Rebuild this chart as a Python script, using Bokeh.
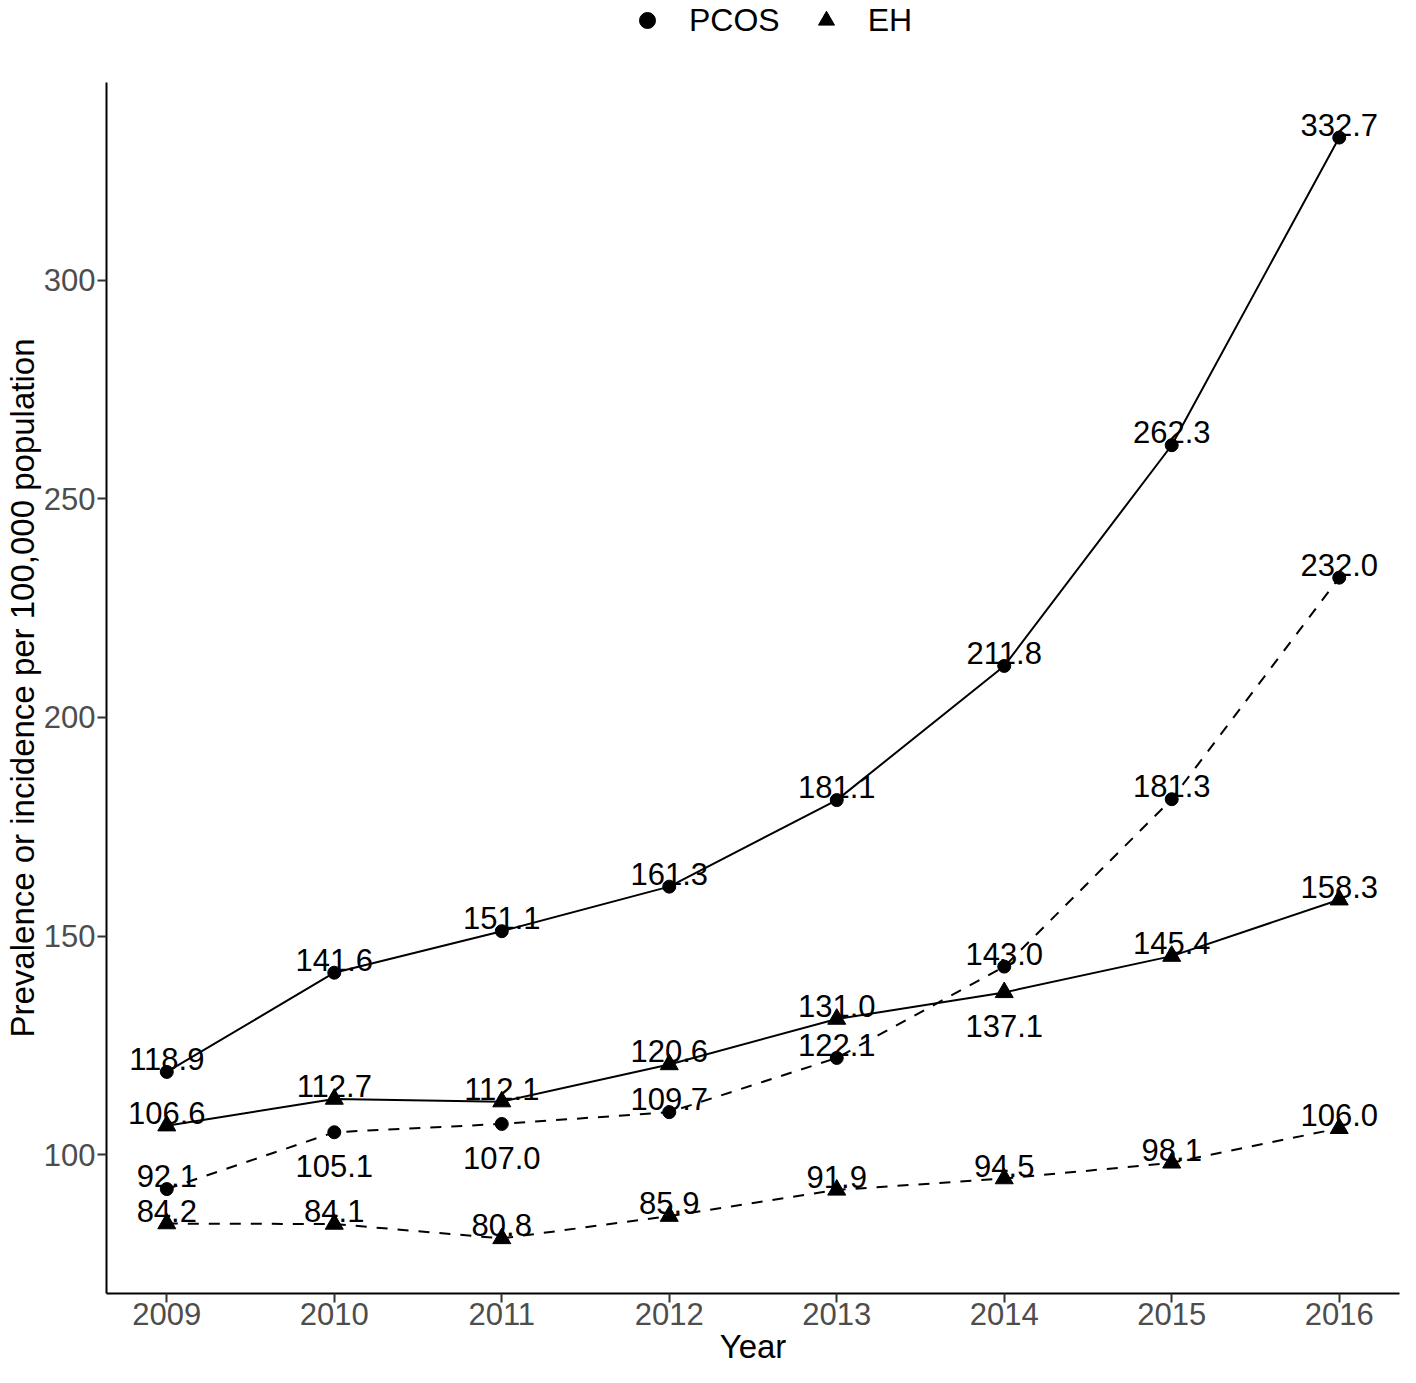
from bokeh.plotting import figure
from bokeh.layouts import column
from bokeh.models import Range1d, FixedTicker, Legend, LegendItem
from bokeh.embed import file_html
from bokeh.resources import INLINE
from bokeh.core.properties import value

# ---- data ----
years = [2009, 2010, 2011, 2012, 2013, 2014, 2015, 2016]
pcos_prevalence = [118.9, 141.6, 151.1, 161.3, 181.1, 211.8, 262.3, 332.7]
pcos_incidence = [92.1, 105.1, 107.0, 109.7, 122.1, 143.0, 181.3, 232.0]
eh_prevalence = [106.6, 112.7, 112.1, 120.6, 131.0, 137.1, 145.4, 158.3]
eh_incidence = [84.2, 84.1, 80.8, 85.9, 91.9, 94.5, 98.1, 106.0]
y_ticks = [100, 150, 200, 250, 300]
legend_labels = ["PCOS", "EH"]

# which labels sit below their point (series name -> years)
labels_below = {"pcos_incidence": [2010, 2011], "eh_prevalence": [2014]}

FONT = "Liberation Sans"

# ---- legend strip on top (its data lies outside its ranges, only the legend shows) ----
leg_fig = figure(width=1400, height=40, output_backend="svg", toolbar_location=None,
                 x_axis_type=None, y_axis_type=None, min_border=0,
                 x_range=Range1d(0, 1), y_range=Range1d(0, 1))
leg_fig.grid.visible = False
leg_fig.outline_line_color = None
leg_fig.border_fill_color = "white"
lc = leg_fig.scatter(x=years, y=pcos_prevalence, marker="circle", fill_color="black", line_color="black")
lt = leg_fig.scatter(x=years, y=eh_prevalence, marker="triangle", fill_color="black", line_color="black")
legend = Legend(items=[LegendItem(label=legend_labels[0], renderers=[lc]),
                       LegendItem(label=legend_labels[1], renderers=[lt])],
                orientation="horizontal", location=(521, 0),
                label_text_font=FONT, label_text_font_size="32px", label_text_color="black",
                border_line_color=None, background_fill_alpha=0,
                glyph_width=40, glyph_height=40, label_standoff=22, spacing=26,
                padding=0, margin=0)
leg_fig.add_layout(legend)

# ---- main chart ----
p = figure(width=1400, height=1327, output_backend="svg", toolbar_location=None,
           x_range=Range1d(2008.64, 2016.36), y_range=Range1d(68.2, 345.3),
           min_border_left=99, min_border_right=1, min_border_top=42, min_border_bottom=70)
p.xgrid.visible = False
p.ygrid.visible = False
p.outline_line_color = None
p.background_fill_color = "white"
p.border_fill_color = "white"

series = [
    ("pcos_prevalence", pcos_prevalence, "circle", "solid"),
    ("pcos_incidence", pcos_incidence, "circle", "dashed"),
    ("eh_prevalence", eh_prevalence, "triangle", "solid"),
    ("eh_incidence", eh_incidence, "triangle", "dashed"),
]

for name, vals, marker, dash in series:
    ld = "solid" if dash == "solid" else "11 10"
    p.line(years, vals, line_color="black", line_width=2, line_dash=ld)

for name, vals, marker, dash in series:
    size = 13 if marker == "circle" else 18
    p.scatter(years, vals, marker=marker, size=size, fill_color="black", line_color="black")

for name, vals, marker, dash in series:
    below = labels_below.get(name, [])
    ax, ay, at, bx, by, bt = [], [], [], [], [], []
    for yr, v in zip(years, vals):
        if yr in below:
            bx.append(yr); by.append(v); bt.append(f"{v:.1f}")
        else:
            ax.append(yr); ay.append(v); at.append(f"{v:.1f}")
    if ax:
        p.text(x=ax, y=ay, text=at, text_align="center", text_baseline="alphabetic",
               y_offset=-13, text_font_size="31px", text_color="black", text_font=value(FONT))
    if bx:
        p.text(x=bx, y=by, text=bt, text_align="center", text_baseline="alphabetic",
               y_offset=34, text_font_size="31px", text_color="black", text_font=value(FONT))

for ax_ in (p.xaxis, p.yaxis):
    ax_.axis_line_width = 2
    ax_.axis_line_color = "black"
    ax_.major_tick_line_width = 2
    ax_.major_tick_line_color = "#333333"
    ax_.major_tick_out = 9
    ax_.major_tick_in = 0
    ax_.minor_tick_line_color = None
    ax_.major_label_text_font = FONT
    ax_.major_label_text_font_size = "31px"
    ax_.major_label_text_color = "#4D4D4D"
    ax_.axis_label_text_font = FONT
    ax_.axis_label_text_font_size = "33px"
    ax_.axis_label_text_font_style = "normal"
    ax_.axis_label_text_color = "black"

p.xaxis.ticker = FixedTicker(ticks=years)
p.yaxis.ticker = FixedTicker(ticks=y_ticks)
p.xaxis.axis_label = "Year"
p.yaxis.axis_label = "Prevalence or incidence per 100,000 population"
p.xaxis.major_label_standoff = 0
p.xaxis.axis_label_standoff = 0
p.yaxis.major_label_standoff = 2
p.yaxis.axis_label_standoff = 0

layout = column(leg_fig, p, spacing=0)
open("out.html", "w").write(file_html(layout, INLINE))
